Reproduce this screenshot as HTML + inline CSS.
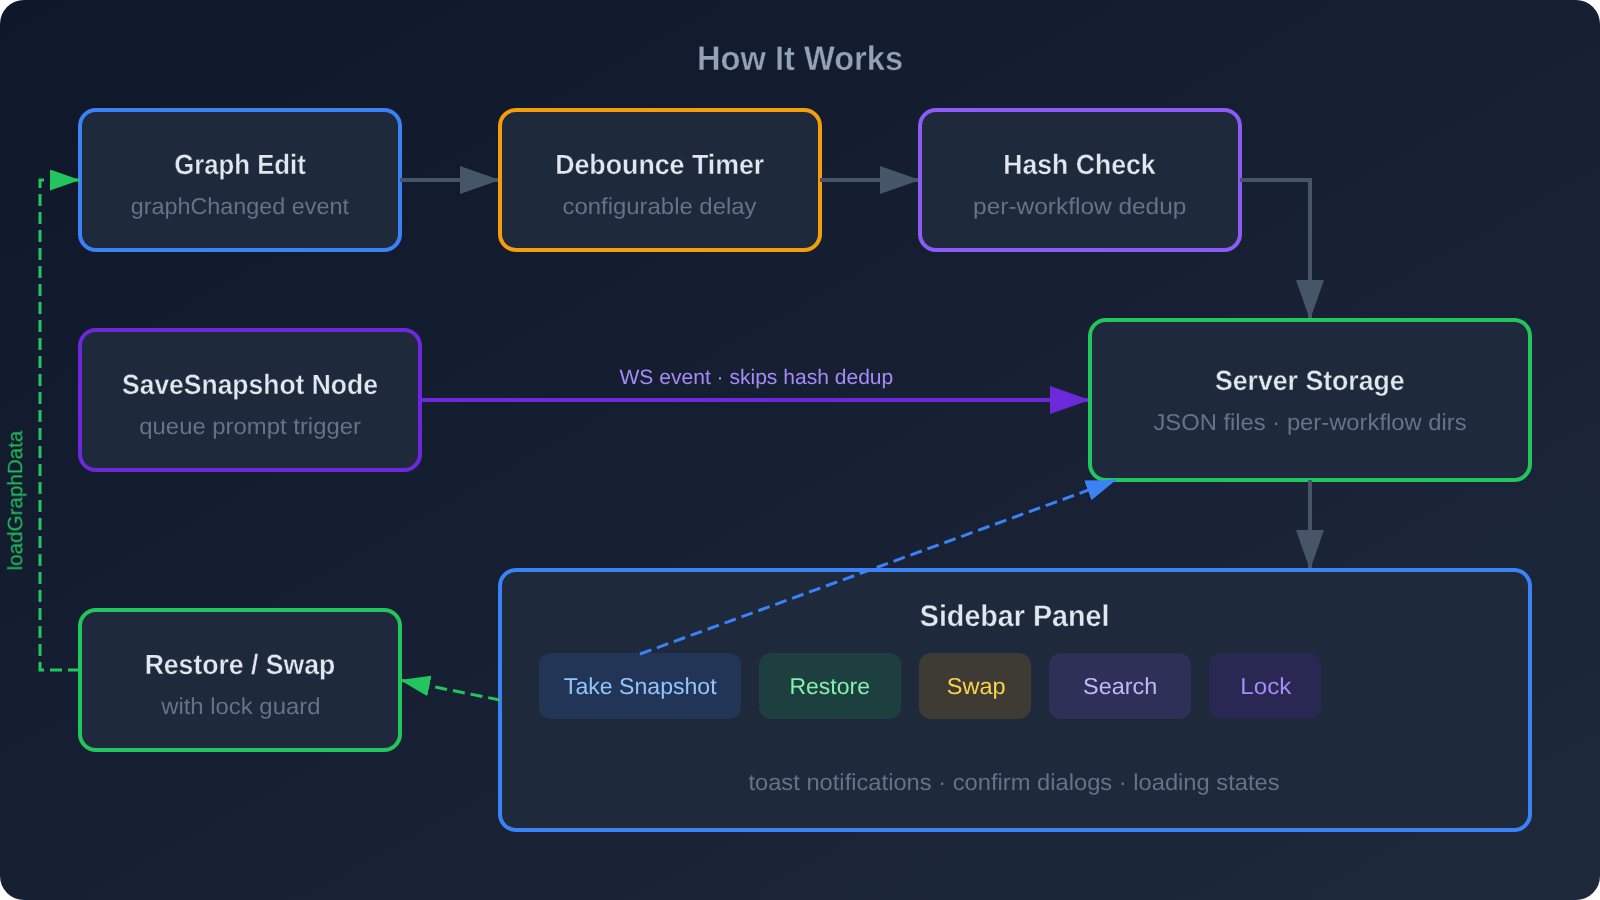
<!DOCTYPE html>
<html><head><meta charset="utf-8"><title>How It Works</title>
<style>
html,body{margin:0;padding:0;background:#ffffff;width:1600px;height:900px;overflow:hidden}
svg{display:block}
text{font-family:"Liberation Sans",sans-serif}
</style></head><body>
<svg width="1600" height="900" viewBox="0 0 800 450">
<defs>
<linearGradient id="bg" x1="0" y1="0" x2="1" y2="1"><stop offset="0" stop-color="#0f172a"/><stop offset="1" stop-color="#1e293b"/></linearGradient>
<marker id="ag" markerWidth="10" markerHeight="7" refX="10" refY="3.5" orient="auto"><polygon points="0 0, 10 3.5, 0 7" fill="#475569"/></marker>
<marker id="ap" markerWidth="10" markerHeight="7" refX="10" refY="3.5" orient="auto"><polygon points="0 0, 10 3.5, 0 7" fill="#6d28d9"/></marker>
<marker id="agr" markerWidth="10" markerHeight="7" refX="10" refY="3.5" orient="auto"><polygon points="0 0, 10 3.5, 0 7" fill="#22c55e"/></marker>
<marker id="ab" markerWidth="10" markerHeight="7" refX="10" refY="3.5" orient="auto"><polygon points="0 0, 10 3.5, 0 7" fill="#3b82f6"/></marker>
</defs>
<rect x="0" y="0" width="800" height="450" rx="12" fill="url(#bg)"/>
<rect x="40" y="55" width="160" height="70" rx="8" fill="#1e293b" stroke="#3b82f6" stroke-width="2"/>
<line x1="200" y1="90" x2="250" y2="90" stroke="#475569" stroke-width="2" marker-end="url(#ag)"/>
<rect x="250" y="55" width="160" height="70" rx="8" fill="#1e293b" stroke="#f59e0b" stroke-width="2"/>
<line x1="410" y1="90" x2="460" y2="90" stroke="#475569" stroke-width="2" marker-end="url(#ag)"/>
<rect x="460" y="55" width="160" height="70" rx="8" fill="#1e293b" stroke="#8b5cf6" stroke-width="2"/>
<path d="M620,90 H655 V160" fill="none" stroke="#475569" stroke-width="2" marker-end="url(#ag)"/>
<rect x="40" y="165" width="170" height="70" rx="8" fill="#1e293b" stroke="#6d28d9" stroke-width="2"/>
<line x1="210" y1="200" x2="545" y2="200" stroke="#6d28d9" stroke-width="2" marker-end="url(#ap)"/>
<rect x="545" y="160" width="220" height="80" rx="8" fill="#1e293b" stroke="#22c55e" stroke-width="2"/>
<line x1="655" y1="240" x2="655" y2="285" stroke="#475569" stroke-width="2" marker-end="url(#ag)"/>
<rect x="250" y="285" width="515" height="130" rx="8" fill="#1e293b" stroke="#3b82f6" stroke-width="2"/>
<rect x="269.5" y="326.5" width="101" height="33" rx="6" fill="#3b82f6" fill-opacity="0.15"/>
<rect x="379.5" y="326.5" width="71" height="33" rx="6" fill="#22c55e" fill-opacity="0.15"/>
<rect x="459.5" y="326.5" width="56" height="33" rx="6" fill="#f59e0b" fill-opacity="0.15"/>
<rect x="524.5" y="326.5" width="71" height="33" rx="6" fill="#8b5cf6" fill-opacity="0.15"/>
<rect x="604.5" y="326.5" width="56" height="33" rx="6" fill="#6d28d9" fill-opacity="0.15"/>
<rect x="40" y="305" width="160" height="70" rx="8" fill="#1e293b" stroke="#22c55e" stroke-width="2"/>
<line x1="320" y1="327" x2="558" y2="240" stroke="#3b82f6" stroke-width="1.5" stroke-dasharray="6 3" marker-end="url(#ab)"/>
<line x1="250" y1="350" x2="200" y2="340" stroke="#22c55e" stroke-width="1.5" stroke-dasharray="6 3" marker-end="url(#agr)"/>
<path d="M40,335 H20 V90 H40" fill="none" stroke="#22c55e" stroke-width="1.5" stroke-dasharray="6 3" marker-end="url(#agr)"/>
<g id="txt" style="will-change:opacity;text-rendering:geometricPrecision" opacity="0.999">
<text id="t0" x="348.510" y="35.000" font-size="17.000" font-weight="700" fill="#94a3b8" stroke="#131c2f" stroke-width="0.2" stroke-linejoin="round" textLength="103.055" lengthAdjust="spacingAndGlyphs">How It Works</text>
<text id="t1" x="87.125" y="87.000" font-size="13.900" font-weight="700" fill="#e2e8f0" stroke="#1e293b" stroke-width="0.2" stroke-linejoin="round" textLength="65.785" lengthAdjust="spacingAndGlyphs">Graph Edit</text>
<text id="t2" x="65.385" y="107.000" font-size="11.500" font-weight="400" fill="#64748b" textLength="109.110" lengthAdjust="spacingAndGlyphs">graphChanged event</text>
<text id="t3" x="277.585" y="87.000" font-size="13.900" font-weight="700" fill="#e2e8f0" stroke="#1e293b" stroke-width="0.2" stroke-linejoin="round" textLength="104.570" lengthAdjust="spacingAndGlyphs">Debounce Timer</text>
<text id="t4" x="281.275" y="107.000" font-size="11.500" font-weight="400" fill="#64748b" textLength="96.990" lengthAdjust="spacingAndGlyphs">configurable delay</text>
<text id="t5" x="501.650" y="87.000" font-size="13.900" font-weight="700" fill="#e2e8f0" stroke="#1e293b" stroke-width="0.2" stroke-linejoin="round" textLength="76.145" lengthAdjust="spacingAndGlyphs">Hash Check</text>
<text id="t6" x="486.540" y="107.000" font-size="11.500" font-weight="400" fill="#64748b" textLength="106.680" lengthAdjust="spacingAndGlyphs">per-workflow dedup</text>
<text id="t7" x="61.005" y="197.000" font-size="13.900" font-weight="700" fill="#e2e8f0" stroke="#1e293b" stroke-width="0.2" stroke-linejoin="round" textLength="127.965" lengthAdjust="spacingAndGlyphs">SaveSnapshot Node</text>
<text id="t8" x="69.660" y="217.000" font-size="11.500" font-weight="400" fill="#64748b" textLength="110.825" lengthAdjust="spacingAndGlyphs">queue prompt trigger</text>
<text id="t9" x="607.480" y="195.000" font-size="13.900" font-weight="700" fill="#e2e8f0" stroke="#1e293b" stroke-width="0.2" stroke-linejoin="round" textLength="94.880" lengthAdjust="spacingAndGlyphs">Server Storage</text>
<text id="t10" x="576.715" y="215.000" font-size="11.500" font-weight="400" fill="#64748b" textLength="156.615" lengthAdjust="spacingAndGlyphs">JSON files · per-workflow dirs</text>
<text id="t11" x="72.325" y="337.000" font-size="13.900" font-weight="700" fill="#e2e8f0" stroke="#1e293b" stroke-width="0.2" stroke-linejoin="round" textLength="95.295" lengthAdjust="spacingAndGlyphs">Restore / Swap</text>
<text id="t12" x="80.600" y="357.000" font-size="11.500" font-weight="400" fill="#64748b" textLength="79.630" lengthAdjust="spacingAndGlyphs">with lock guard</text>
<text id="t13" x="459.880" y="313.000" font-size="14.950" font-weight="700" fill="#e2e8f0" stroke="#1e293b" stroke-width="0.2" stroke-linejoin="round" textLength="94.870" lengthAdjust="spacingAndGlyphs">Sidebar Panel</text>
<text id="t14" x="281.940" y="347.000" font-size="11.500" font-weight="400" fill="#93c5fd" textLength="76.380" lengthAdjust="spacingAndGlyphs">Take Snapshot</text>
<text id="t15" x="394.725" y="347.000" font-size="11.500" font-weight="400" fill="#86efac" textLength="40.255" lengthAdjust="spacingAndGlyphs">Restore</text>
<text id="t16" x="473.375" y="347.000" font-size="11.500" font-weight="400" fill="#fcd34d" textLength="29.410" lengthAdjust="spacingAndGlyphs">Swap</text>
<text id="t17" x="541.505" y="347.000" font-size="11.500" font-weight="400" fill="#c4b5fd" textLength="37.165" lengthAdjust="spacingAndGlyphs">Search</text>
<text id="t18" x="620.145" y="347.000" font-size="11.500" font-weight="400" fill="#a78bfa" textLength="25.550" lengthAdjust="spacingAndGlyphs">Lock</text>
<text id="t19" x="374.210" y="395.000" font-size="11.500" font-weight="400" fill="#64748b" textLength="265.605" lengthAdjust="spacingAndGlyphs">toast notifications · confirm dialogs · loading states</text>
<text id="t20" x="309.755" y="192.000" font-size="10.450" font-weight="400" fill="#a78bfa" textLength="136.880" lengthAdjust="spacingAndGlyphs">WS event · skips hash dedup</text>
<text id="trot" transform="translate(11.100 285.200) rotate(-90)" x="0" y="0" font-size="10.45" fill="#22c55e" textLength="69.850" lengthAdjust="spacingAndGlyphs">loadGraphData</text>
</g>
</svg></body></html>
